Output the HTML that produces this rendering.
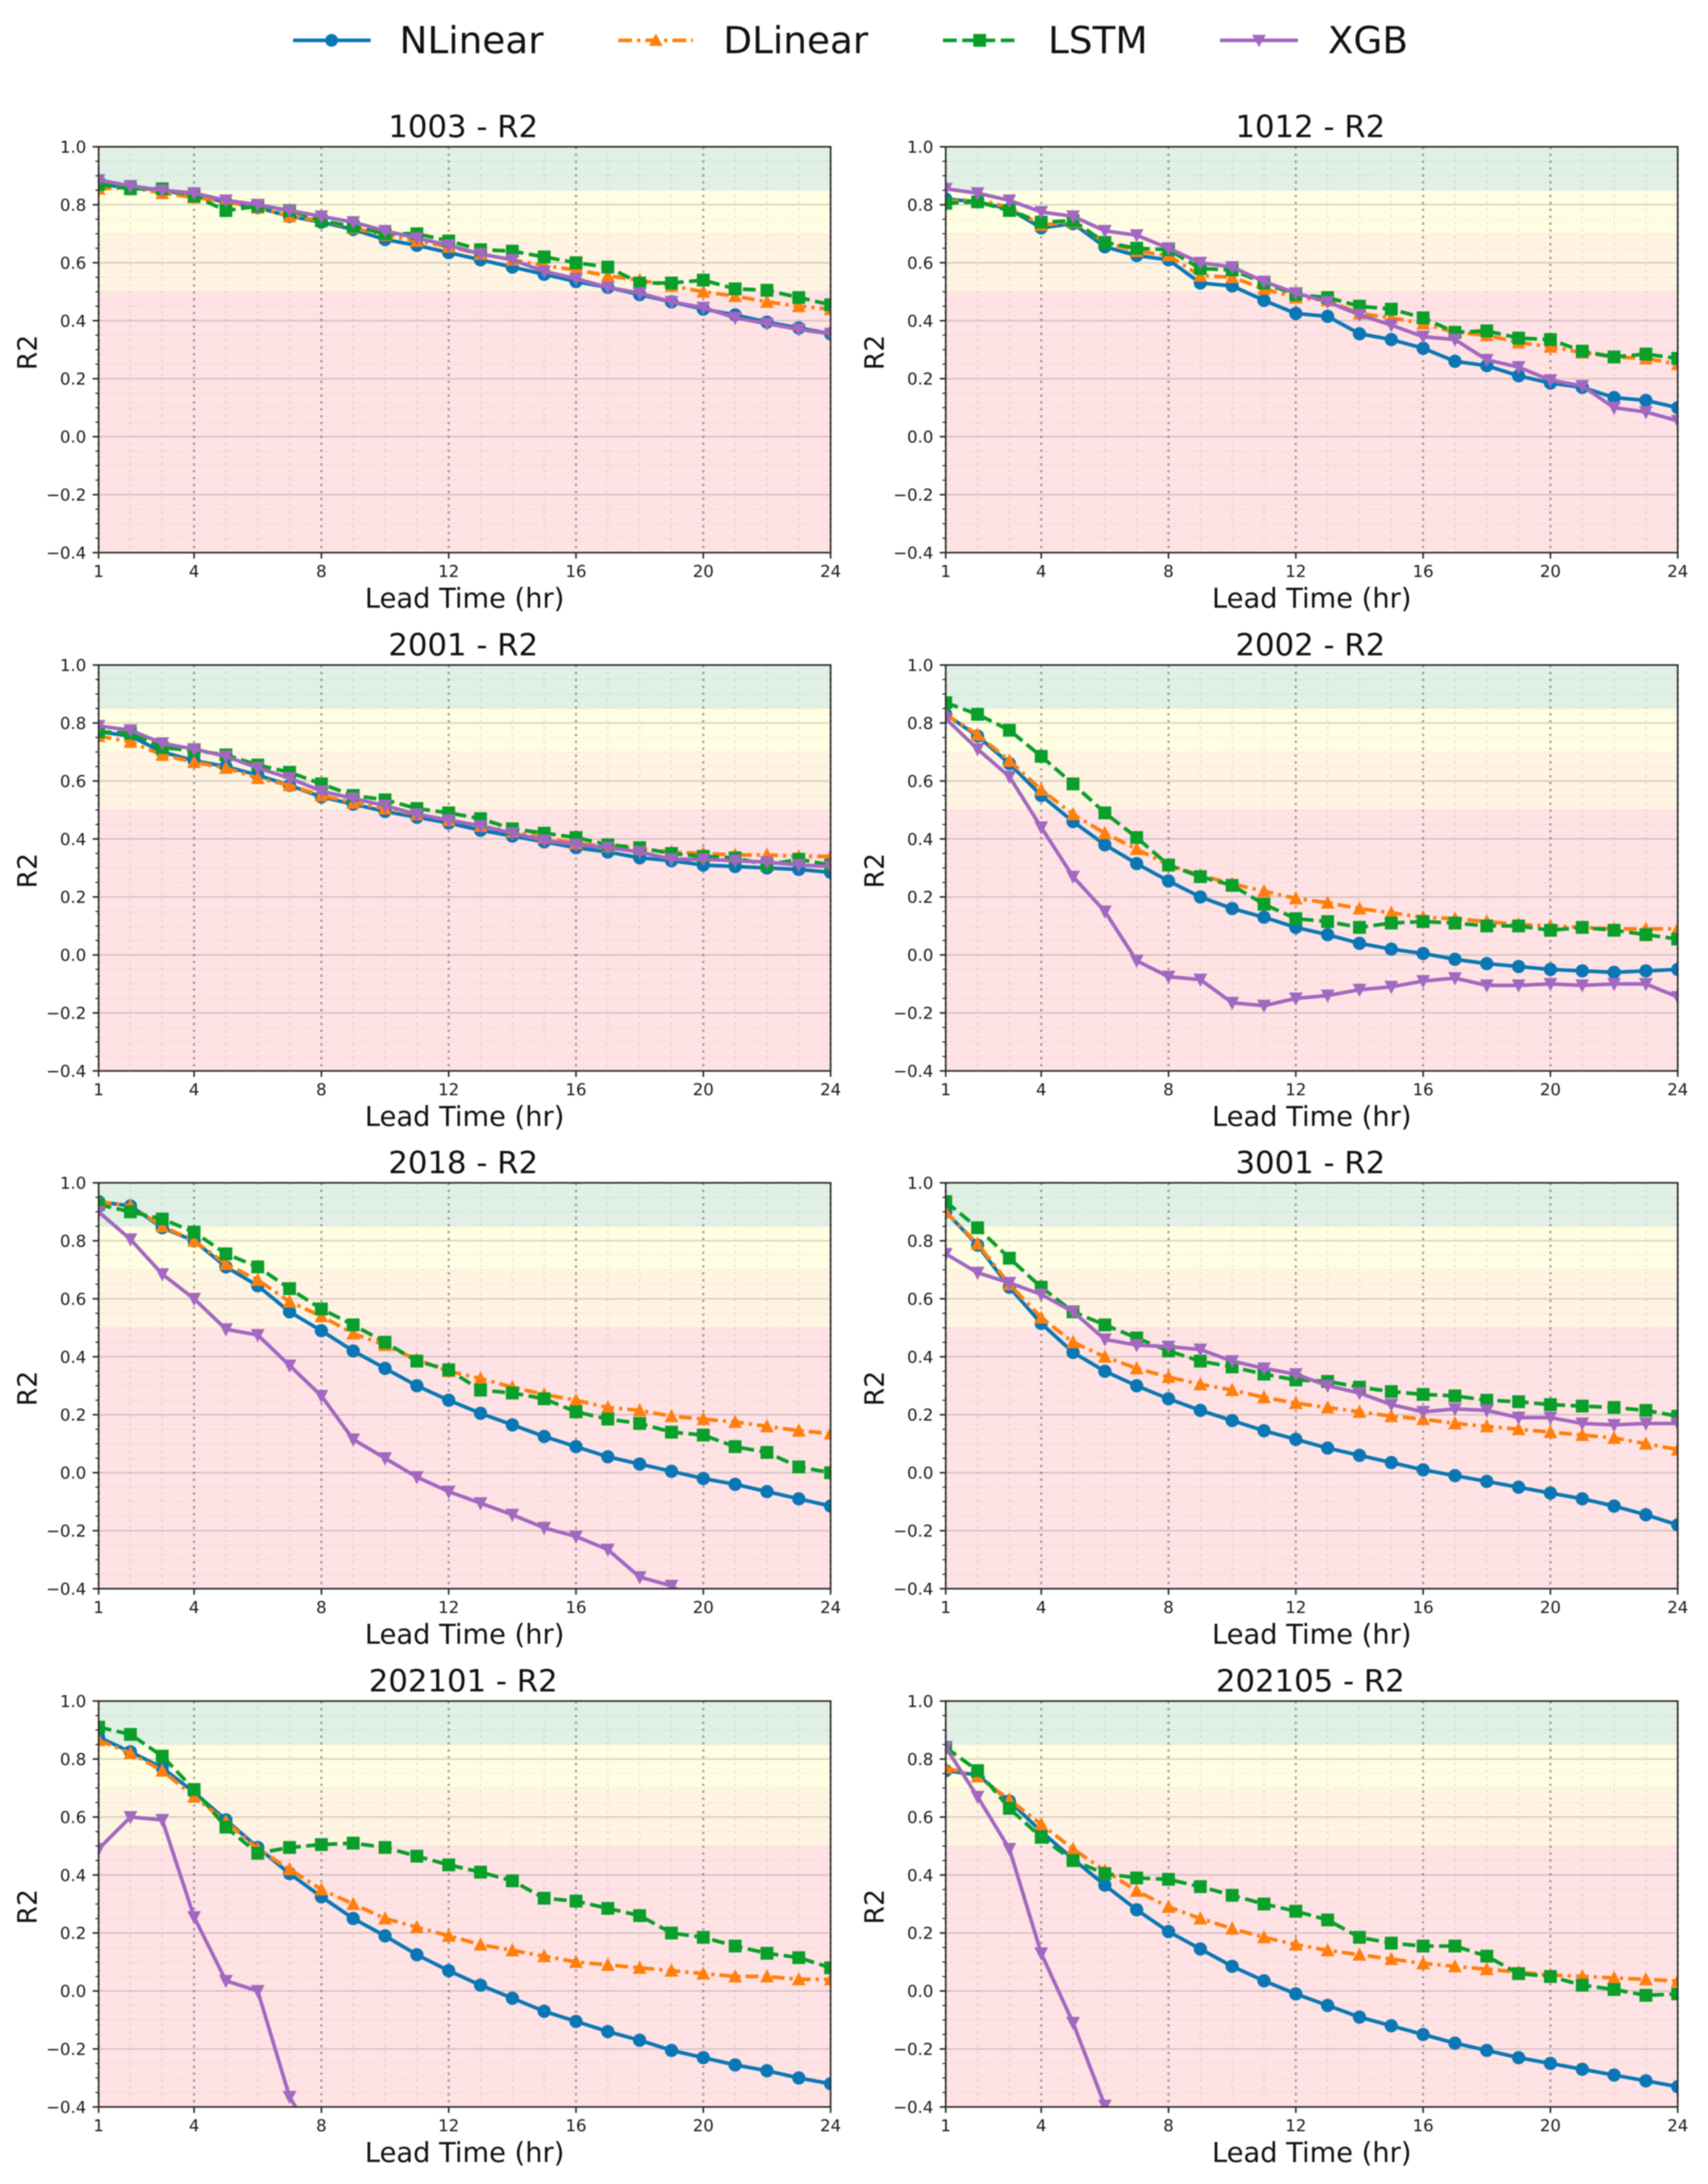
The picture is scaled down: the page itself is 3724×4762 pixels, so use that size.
<!DOCTYPE html>
<html lang="en">
<head>
<meta charset="utf-8">
<title>R2 by lead time</title>
<style>
html,body{margin:0;padding:0;background:#fff;width:3724px;height:4762px;overflow:hidden;}
svg{display:block;font-family:"DejaVu Sans","Liberation Sans",sans-serif;filter:blur(1.2px);}
</style>
</head>
<body>
<svg id="figure" xmlns="http://www.w3.org/2000/svg" width="3724" height="4762" viewBox="0 0 3724 4762">
  <rect x="0" y="0" width="3724" height="4762" fill="#ffffff"/>
  <g>
    <g>
      <line x1="639" y1="88" x2="808" y2="88" stroke="#0a77b4" stroke-width="8"/>
      <circle cx="723" cy="88" r="14" fill="#0a77b4"/>
      <text x="871" y="116" font-size="81.5" fill="#111">NLinear</text>
    </g>
    <g>
      <line x1="1348" y1="88" x2="1511" y2="88" stroke="#ff7f0e" stroke-width="8" stroke-dasharray="30 11 7 11"/>
      <polygon points="1430,73 1445,100 1415,100" fill="#ff7f0e"/>
      <text x="1577" y="116" font-size="81.5" fill="#111">DLinear</text>
    </g>
    <g>
      <line x1="2056" y1="88" x2="2218" y2="88" stroke="#0a9e2a" stroke-width="8" stroke-dasharray="30 12"/>
      <rect x="2122" y="74" width="28" height="28" fill="#0a9e2a"/>
      <text x="2285" y="116" font-size="81.5" fill="#111">LSTM</text>
    </g>
    <g>
      <line x1="2660" y1="88" x2="2830" y2="88" stroke="#a268c0" stroke-width="8"/>
      <polygon points="2745,103 2730,76 2760,76" fill="#a268c0"/>
      <text x="2895" y="116" font-size="81.5" fill="#111">XGB</text>
    </g>
  </g>
  <g id="panels"></g>
</svg>
<script>
const leadTimes = [1,2,3,4,5,6,7,8,9,10,11,12,13,14,15,16,17,18,19,20,21,22,23,24];
const xTickLabels = [1,4,8,12,16,20,24];
const yTickLabels = [-0.4,-0.2,0.0,0.2,0.4,0.6,0.8,1.0];
const yMinorValues = [-0.35,-0.3,-0.25,-0.15,-0.1,-0.05,0.05,0.1,0.15,0.25,0.3,0.35,0.45,0.5,0.55,0.65,0.7,0.75,0.85,0.9,0.95];
const bandEdges = [1.0,0.85,0.7,0.5,-0.4];
const bandColors = ['#e0f0e4','#fffee2','#fff3e2','#ffe2e4'];
const panelNames = ['1003','1012','2001','2002','2018','3001','202101','202105'];

const nlinear1003 = [.87,.86,.85,.83,.81,.79,.76,.74,.715,.68,.66,.635,.61,.585,.56,.535,.515,.49,.465,.44,.42,.395,.375,.355];
const dlinear1003 = [.855,.86,.84,.825,.81,.79,.76,.745,.72,.695,.675,.655,.63,.61,.59,.575,.555,.54,.52,.50,.485,.465,.45,.44];
const lstm1003 = [.87,.855,.855,.83,.78,.795,.78,.745,.725,.70,.70,.675,.645,.64,.62,.60,.585,.53,.53,.54,.51,.505,.48,.455];
const xgb1003 = [.885,.865,.85,.84,.815,.80,.78,.76,.74,.71,.685,.66,.63,.61,.57,.545,.515,.495,.465,.445,.41,.39,.37,.355];

const nlinear1012 = [.82,.81,.785,.72,.735,.655,.625,.61,.53,.52,.47,.425,.415,.355,.335,.305,.26,.245,.21,.185,.17,.135,.125,.10];
const dlinear1012 = [.81,.82,.79,.73,.74,.67,.64,.625,.555,.55,.51,.48,.47,.425,.41,.39,.36,.35,.325,.31,.29,.275,.27,.25];
const lstm1012 = [.805,.81,.78,.74,.745,.67,.65,.645,.58,.575,.53,.49,.48,.45,.44,.41,.36,.365,.34,.335,.295,.275,.285,.27];
const xgb1012 = [.855,.84,.815,.775,.76,.71,.695,.65,.60,.585,.535,.495,.465,.42,.385,.345,.335,.265,.24,.195,.175,.10,.085,.055];

const nlinear2001 = [.77,.755,.70,.67,.65,.62,.585,.545,.52,.495,.475,.455,.43,.41,.39,.37,.355,.335,.325,.31,.305,.30,.295,.285];
const dlinear2001 = [.755,.735,.69,.665,.645,.61,.585,.55,.525,.505,.485,.465,.445,.425,.405,.385,.375,.365,.355,.35,.345,.345,.34,.34];
const lstm2001 = [.77,.765,.715,.705,.69,.655,.63,.59,.55,.535,.505,.49,.47,.435,.42,.405,.38,.37,.35,.34,.335,.31,.33,.31];
const xgb2001 = [.79,.775,.73,.71,.685,.645,.61,.565,.54,.515,.485,.465,.445,.42,.395,.38,.37,.355,.33,.33,.325,.32,.31,.305];

const nlinear2002 = [.83,.755,.66,.55,.46,.38,.315,.255,.20,.16,.13,.095,.07,.04,.02,.005,-.015,-.03,-.04,-.05,-.055,-.06,-.055,-.05];
const dlinear2002 = [.83,.76,.67,.57,.485,.42,.365,.31,.275,.245,.22,.195,.18,.16,.145,.13,.125,.115,.105,.10,.095,.09,.09,.09];
const lstm2002 = [.87,.83,.775,.685,.59,.49,.405,.31,.27,.24,.175,.125,.115,.095,.11,.115,.11,.10,.10,.085,.095,.085,.07,.055];
const xgb2002 = [.815,.71,.615,.44,.27,.15,-.02,-.075,-.085,-.165,-.175,-.15,-.14,-.12,-.11,-.09,-.08,-.105,-.105,-.10,-.105,-.10,-.10,-.145];

const nlinear2018 = [.935,.92,.845,.80,.71,.645,.555,.49,.42,.36,.30,.25,.205,.165,.125,.09,.055,.03,.005,-.02,-.04,-.065,-.09,-.115];
const dlinear2018 = [.935,.92,.85,.80,.72,.665,.59,.54,.48,.44,.39,.35,.325,.295,.27,.25,.225,.215,.195,.185,.175,.16,.145,.135];
const lstm2018 = [.925,.90,.875,.83,.755,.71,.635,.565,.51,.45,.385,.355,.285,.275,.255,.21,.185,.17,.14,.13,.09,.07,.02,.00];
const xgb2018 = [.90,.805,.685,.60,.495,.475,.37,.265,.115,.05,-.015,-.065,-.105,-.145,-.19,-.22,-.265,-.36,-.39,-.46,null,null,null,null];

const nlinear3001 = [.90,.785,.64,.515,.415,.35,.30,.255,.215,.18,.145,.115,.085,.06,.035,.01,-.01,-.03,-.05,-.07,-.09,-.115,-.145,-.18];
const dlinear3001 = [.90,.79,.65,.535,.45,.40,.36,.33,.305,.285,.26,.24,.225,.21,.195,.185,.17,.16,.15,.14,.13,.12,.10,.08];
const lstm3001 = [.935,.845,.74,.64,.555,.51,.465,.42,.385,.365,.34,.32,.315,.295,.28,.27,.265,.25,.245,.235,.23,.225,.215,.195];
const xgb3001 = [.755,.69,.655,.615,.555,.46,.44,.435,.425,.385,.36,.34,.30,.275,.235,.21,.22,.215,.19,.19,.17,.165,.17,.17];

const nlinear202101 = [.875,.825,.77,.685,.59,.495,.405,.325,.25,.19,.125,.07,.02,-.025,-.07,-.105,-.14,-.17,-.205,-.23,-.255,-.275,-.30,-.32];
const dlinear202101 = [.865,.82,.76,.67,.585,.49,.42,.35,.30,.25,.22,.19,.16,.14,.12,.10,.09,.08,.07,.06,.05,.05,.04,.04];
const lstm202101 = [.91,.885,.81,.695,.565,.475,.495,.505,.51,.495,.465,.435,.41,.38,.32,.31,.285,.26,.20,.185,.155,.13,.115,.08];
const xgb202101 = [.49,.60,.59,.255,.035,.00,-.365,-.55,null,null,null,null,null,null,null,null,null,null,null,null,null,null,null,null];

const nlinear202105 = [.76,.745,.655,.55,.455,.365,.28,.205,.145,.085,.035,-.01,-.05,-.09,-.12,-.15,-.18,-.205,-.23,-.25,-.27,-.29,-.31,-.33];
const dlinear202105 = [.77,.74,.66,.575,.49,.415,.345,.29,.25,.215,.185,.16,.14,.125,.11,.095,.085,.075,.065,.055,.05,.045,.04,.035];
const lstm202105 = [.84,.76,.63,.53,.45,.405,.39,.385,.36,.33,.30,.275,.245,.185,.165,.155,.155,.12,.06,.05,.02,.005,-.015,-.01];
const xgb202105 = [.84,.67,.49,.13,-.11,-.395,-.65,null,null,null,null,null,null,null,null,null,null,null,null,null,null,null,null,null];

const panelSeries = [
  [nlinear1003, dlinear1003, lstm1003, xgb1003],
  [nlinear1012, dlinear1012, lstm1012, xgb1012],
  [nlinear2001, dlinear2001, lstm2001, xgb2001],
  [nlinear2002, dlinear2002, lstm2002, xgb2002],
  [nlinear2018, dlinear2018, lstm2018, xgb2018],
  [nlinear3001, dlinear3001, lstm3001, xgb3001],
  [nlinear202101, dlinear202101, lstm202101, xgb202101],
  [nlinear202105, dlinear202105, lstm202105, xgb202105]
];
const seriesNames = ['nlinear','dlinear','lstm','xgb'];
const seriesColors = ['#0a77b4','#ff7f0e','#0a9e2a','#a268c0'];
const seriesDashes = ['none','28 11 7 11','28 12','none'];

const columnLefts = [215, 2062];
const rowTops = [320, 1450, 2579, 3709];
const plotWidth = 1596;
const plotHeight = 885;
const NS = 'http://www.w3.org/2000/svg';
const root = document.getElementById('panels');

function make(tag, attrs, parent) {
  const n = document.createElementNS(NS, tag);
  for (const k in attrs) n.setAttribute(k, attrs[k]);
  parent.appendChild(n);
  return n;
}
function xAxisScale(left, v) { return left + (v - 1) / 23 * plotWidth; }
function yAxisScale(top, v) { return top + (1 - v) / 1.4 * plotHeight; }
function tickText(v) { return (v < 0 ? '\u2212' : '') + Math.abs(v).toFixed(1); }

panelNames.forEach(function (name, idx) {
  const left = columnLefts[idx % 2];
  const top = rowTops[Math.floor(idx / 2)];
  const right = left + plotWidth;
  const bottom = top + plotHeight;
  const X = function (v) { return xAxisScale(left, v); };
  const Y = function (v) { return yAxisScale(top, v); };

  const panel = make('g', {}, root);
  
  

  const clip = make('clipPath', { id: 'clip-' + idx }, panel);
  make('rect', { x: left, y: top, width: plotWidth, height: plotHeight }, clip);

  bandColors.forEach(function (color, b) {
    const band = make('rect', { x: left, y: Y(bandEdges[b]), width: plotWidth, height: Y(bandEdges[b + 1]) - Y(bandEdges[b]), fill: color }, panel);
    
    
  });

  yMinorValues.forEach(function (v) {
    const g = make('line', { x1: left, x2: right, y1: Y(v), y2: Y(v), stroke: 'rgba(170,150,150,0.22)', 'stroke-width': 2.5, 'stroke-dasharray': '3 5' }, panel);
    
    
  });
  yTickLabels.forEach(function (v) {
    const g = make('line', { x1: left, x2: right, y1: Y(v), y2: Y(v), stroke: 'rgba(110,110,110,0.27)', 'stroke-width': 3.5 }, panel);
    
    
  });
  leadTimes.forEach(function (h) {
    const major = xTickLabels.indexOf(h) >= 0;
    const g = make('line', { x1: X(h), x2: X(h), y1: top, y2: bottom,
      stroke: major ? 'rgba(80,80,80,0.55)' : 'rgba(140,140,140,0.25)',
      'stroke-width': major ? 4.5 : 3.5, 'stroke-dasharray': major ? '5 10' : '4 11' }, panel);
    
    
  });

  const plot = make('g', { 'clip-path': 'url(#clip-' + idx + ')' }, panel);
  panelSeries[idx].forEach(function (values, s) {
    const color = seriesColors[s];
    const group = make('g', {}, plot);
    
    
    const known = leadTimes.map(function (h, i) { return [h, values[i]]; }).filter(function (p) { return p[1] !== null; });
    const pts = known.map(function (p) { return X(p[0]).toFixed(1) + ',' + Y(p[1]).toFixed(1); }).join(' ');
    const attrs = { points: pts, fill: 'none', stroke: color, 'stroke-width': 8, 'stroke-linejoin': 'round' };
    if (seriesDashes[s] !== 'none') attrs['stroke-dasharray'] = seriesDashes[s];
    const line = make('polyline', attrs, group);
    
    
    known.forEach(function (p) {
      const cx = X(p[0]);
      const cy = Y(p[1]);
      let m;
      if (s === 0) {
        m = make('circle', { cx: cx, cy: cy, r: 14.5, fill: color }, group);
      } else if (s === 1) {
        m = make('polygon', { points: cx + ',' + (cy - 16) + ' ' + (cx + 15) + ',' + (cy + 13) + ' ' + (cx - 15) + ',' + (cy + 13), fill: color }, group);
      } else if (s === 2) {
        m = make('rect', { x: cx - 14, y: cy - 14, width: 28, height: 28, fill: color }, group);
      } else {
        m = make('polygon', { points: cx + ',' + (cy + 16) + ' ' + (cx + 15) + ',' + (cy - 13) + ' ' + (cx - 15) + ',' + (cy - 13), fill: color }, group);
      }
      
      
    });
  });

  const spine = make('rect', { x: left, y: top, width: plotWidth, height: plotHeight, fill: 'none', stroke: '#2a2a2a', 'stroke-width': 3.5 }, panel);
  
  

  yMinorValues.forEach(function (v) {
    const t = make('line', { x1: left - 7, x2: left, y1: Y(v), y2: Y(v), stroke: '#2a2a2a', 'stroke-width': 2.5 }, panel);
    
    
  });
  yTickLabels.forEach(function (v) {
    const t = make('line', { x1: left - 13, x2: left, y1: Y(v), y2: Y(v), stroke: '#2a2a2a', 'stroke-width': 3.5 }, panel);
    
    
    const lab = make('text', { x: left - 27, y: Y(v) + 13, 'text-anchor': 'end', 'font-size': 36, fill: '#1a1a1a' }, panel);
    lab.textContent = tickText(v);
    
    
  });
  xTickLabels.forEach(function (h) {
    const t = make('line', { x1: X(h), x2: X(h), y1: bottom, y2: bottom + 13, stroke: '#2a2a2a', 'stroke-width': 3.5 }, panel);
    
    
    const lab = make('text', { x: X(h), y: bottom + 53, 'text-anchor': 'middle', 'font-size': 36, fill: '#1a1a1a' }, panel);
    lab.textContent = String(h);
    
    
  });

  const title = make('text', { x: left + plotWidth / 2 - 3, y: top - 21, 'text-anchor': 'middle', 'font-size': 67, fill: '#111' }, panel);
  title.textContent = name + ' - R2';
  
  

  const xlabel = make('text', { x: left + plotWidth / 2, y: bottom + 120, 'text-anchor': 'middle', 'font-size': 59.5, fill: '#111' }, panel);
  xlabel.textContent = 'Lead Time (hr)';
  
  

  const ylx = left - 135;
  const yly = top + plotHeight / 2 + 6;
  const ylabel = make('text', { x: ylx, y: yly, 'text-anchor': 'middle', 'font-size': 58, fill: '#111', transform: 'rotate(-90 ' + ylx + ' ' + yly + ')' }, panel);
  ylabel.textContent = 'R2';
  
  
});
</script>
</body>
</html>
